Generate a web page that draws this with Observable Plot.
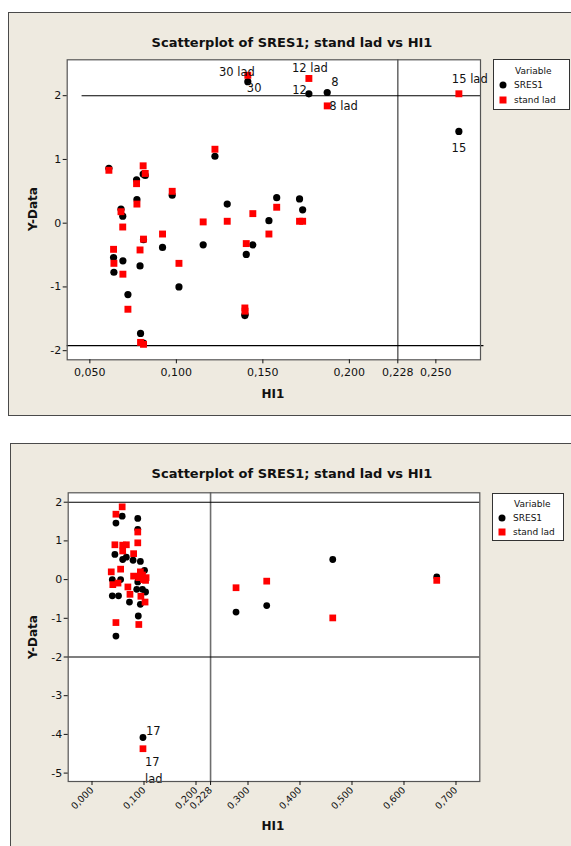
<!DOCTYPE html>
<html><head><meta charset="utf-8">
<script src="https://cdn.jsdelivr.net/npm/d3@7"></script>
<script src="https://cdn.jsdelivr.net/npm/@observablehq/plot@0.6"></script>
<style>
body{margin:0;background:#fff;font-family:"DejaVu Sans",sans-serif;}
#wrap{position:relative;width:571px;height:846px;overflow:hidden;background:#fff;}
.panel{position:absolute;background:#EEEAE0;border:1px solid #4a4a4a;box-sizing:border-box;}
.abs{position:absolute;white-space:nowrap;color:#111;}
.title{font-weight:bold;font-size:13px;transform:translate(-50%,-50%);}
.ylab{font-weight:bold;font-size:12px;transform:translate(-50%,-50%) rotate(-90deg);}
.xlab{font-weight:bold;font-size:12px;transform:translate(-50%,-50%);}
.legend{position:absolute;background:#fff;border:1px solid #333;box-sizing:border-box;font-size:9px;color:#111;}
.legend .row{position:absolute;white-space:nowrap;transform:translateY(-50%);}
.sym{position:absolute;transform:translate(-50%,-50%);}
.plotbox{position:absolute;left:0;}
</style>
</head><body>
<div id="wrap">
  <div class="panel" style="left:8px;top:12px;width:575px;height:404px"></div>
  <div class="panel" style="left:10px;top:443px;width:575px;height:420px"></div>
  <div id="topPlot" class="plotbox" style="top:0px"></div>
  <div id="botPlot" class="plotbox" style="top:430px"></div>
</div>
<script>
// ---------- shared text ----------
const chartTitle = "Scatterplot of SRES1; stand lad vs HI1";
const xTitle = "HI1";
const yTitle = "Y-Data";
const legendTitle = "Variable";
const seriesNames = ["SRES1", "stand lad"];
const seriesColors = ["#000000", "#ff0000"];

// ---------- top chart data ----------
const topHI   = [0.061, 0.0637, 0.0639, 0.068, 0.069, 0.0691, 0.072, 0.077, 0.0772, 0.079, 0.0793, 0.081, 0.0808, 0.082, 0.081, 0.092, 0.0976, 0.1015, 0.1155, 0.1223, 0.1294, 0.1396, 0.1397, 0.1404, 0.1413, 0.1442, 0.1535, 0.158, 0.1712, 0.173, 0.1766, 0.1872, 0.2633];
const topSRES = [0.86, -0.54, -0.77, 0.22, 0.11, -0.59, -1.12, 0.68, 0.37, -0.67, -1.73, -1.88, 0.77, 0.75, -0.26, -0.38, 0.44, -1.00, -0.34, 1.05, 0.30, -1.45, -1.43, -0.49, 2.22, -0.34, 0.04, 0.40, 0.38, 0.21, 2.03, 2.05, 1.44];
const topLAD  = [0.83, -0.41, -0.63, 0.18, -0.06, -0.80, -1.35, 0.62, 0.30, -0.42, -1.87, -1.90, 0.90, 0.78, -0.25, -0.17, 0.50, -0.63, 0.02, 1.16, 0.03, -1.33, -1.38, -0.32, 2.32, 0.15, -0.17, 0.25, 0.03, 0.03, 2.27, 1.84, 2.03];
const topObsId = [null, null, null, null, null, null, null, null, null, null, null, null, null, null, null, null, null, null, null, null, null, null, null, null, "30", null, null, null, null, null, "12", "8", "15"];
const topXTicks = [0.05, 0.10, 0.15, 0.20, 0.228, 0.25];
const topXTickLabels = ["0,050", "0,100", "0,150", "0,200", "0,228", "0,250"];
const topYTicks = [-2, -1, 0, 1, 2];
const topVRef = [0.228];
const topHRefHigh = 2;
const topHRefHighStart = 0.0455;
const topHRefLow = -1.92;

// ---------- bottom chart data ----------
const botSRESHI = [0.058, 0.046, 0.088, 0.088, 0.044, 0.059, 0.066, 0.079, 0.093, 0.101, 0.039, 0.055, 0.088, 0.086, 0.097, 0.103, 0.039, 0.051, 0.072, 0.093, 0.089, 0.046, 0.098, 0.277, 0.336, 0.463, 0.663];
const botSRES   = [1.64, 1.46, 1.58, 1.30, 0.65, 0.52, 0.58, 0.50, 0.47, 0.24, 0.00, 0.00, -0.06, -0.25, -0.25, -0.32, -0.42, -0.42, -0.58, -0.64, -0.94, -1.46, -4.08, -0.84, -0.67, 0.52, 0.07];
const botSRESId = [null, null, null, null, null, null, null, null, null, null, null, null, null, null, null, null, null, null, null, null, null, null, "17", null, null, null, null];
const botLADHI  = [0.058, 0.046, 0.088, 0.088, 0.044, 0.059, 0.066, 0.059, 0.080, 0.055, 0.037, 0.093, 0.080, 0.090, 0.099, 0.097, 0.104, 0.040, 0.050, 0.103, 0.069, 0.073, 0.094, 0.102, 0.046, 0.090, 0.098, 0.277, 0.336, 0.463, 0.663];
const botLAD    = [1.88, 1.69, 1.23, 0.95, 0.90, 0.89, 0.90, 0.74, 0.67, 0.27, 0.20, 0.20, 0.09, 0.05, 0.00, 0.12, 0.05, -0.13, -0.09, -0.02, -0.19, -0.38, -0.43, -0.58, -1.11, -1.16, -4.37, -0.21, -0.04, -0.99, -0.02];
const botLADId  = [null, null, null, null, null, null, null, null, null, null, null, null, null, null, null, null, null, null, null, null, null, null, null, null, null, null, "17", null, null, null, null];
const botXTicks = [0, 0.1, 0.2, 0.228, 0.3, 0.4, 0.5, 0.6, 0.7];
const botXTickLabels = ["0,000", "0,100", "0,200", "0,228", "0,300", "0,400", "0,500", "0,600", "0,700"];
const botYTicks = [-5, -4, -3, -2, -1, 0, 1, 2];
const botVRef = [0.228];
const botHRef = [2, -2];

// ---------- helpers ----------
const wrap = document.getElementById("wrap");
function addDiv(cls, text, left, top, extra) {
  const d = document.createElement("div");
  d.className = "abs " + cls;
  d.textContent = text;
  d.style.left = left + "px";
  d.style.top = top + "px";
  if (extra) Object.assign(d.style, extra);
  wrap.appendChild(d);
  return d;
}
function addLegend(left, top, w, h, symX, rowYs) {
  const box = document.createElement("div");
  box.className = "legend";
  Object.assign(box.style, {left: left + "px", top: top + "px", width: w + "px", height: h + "px"});
  const t = document.createElement("div");
  t.className = "row"; t.textContent = legendTitle;
  t.style.left = (symX - left + 11) + "px"; t.style.top = (rowYs[0] - top) + "px";
  box.appendChild(t);
  seriesNames.forEach((name, i) => {
    const s = document.createElement("div");
    s.className = "sym";
    Object.assign(s.style, {left: (symX - left - 1) + "px", top: (rowYs[i + 1] - top - 1) + "px",
      width: "7px", height: "7px", background: seriesColors[i], borderRadius: i === 0 ? "50%" : "0"});
    box.appendChild(s);
    const r = document.createElement("div");
    r.className = "row"; r.textContent = name;
    r.style.left = (symX - left + 10) + "px"; r.style.top = (rowYs[i + 1] - top - 1) + "px";
    box.appendChild(r);
  });
  wrap.appendChild(box);
}
const baseStyle = {background: "transparent", fontFamily: "DejaVu Sans", fontSize: "11px", color: "#111", overflow: "visible"};
const lblFont = 11.5;

// ---------- top chart ----------
const topObs = topHI.map((hi, i) => ({hi, sres: topSRES[i], lad: topLAD[i], id: topObsId[i]}));
const pick = id => topObs.filter(d => d.id === id);
const topXDom = [0.0369, 0.2758];
const topPlot = Plot.plot({
  width: 571, height: 416,
  marginLeft: 66.7, marginRight: 91, marginTop: 59.3, marginBottom: 56.7,
  x: {domain: topXDom},
  y: {domain: [-2.143, 2.563]},
  style: baseStyle,
  marks: [
    Plot.frame({fill: "white", stroke: null}),
    Plot.ruleX(topVRef, {stroke: "#6e6e6e", strokeWidth: 1.6}),
    Plot.ruleY([topHRefHigh], {x1: () => topHRefHighStart, x2: () => topXDom[1], stroke: "#000", strokeWidth: 1.1}),
    Plot.ruleY([topHRefLow], {x1: () => topXDom[0], x2: () => topXDom[1] + 0.002, stroke: "#000", strokeWidth: 1.1}),
    Plot.dot(topObs, {x: "hi", y: "sres", r: 3.6, fill: seriesColors[0], stroke: null}),
    Plot.dot(topObs, {x: "hi", y: "lad", r: 3.9, symbol: "square", fill: seriesColors[1], stroke: null}),
    // SRES1 labels
    Plot.text(pick("30"), {x: "hi", y: "sres", text: "id", textAnchor: "start", dx: -1, dy: 7, fontSize: lblFont, fill: "#111"}),
    Plot.text(pick("12"), {x: "hi", y: "sres", text: "id", textAnchor: "end", dx: -2, dy: -3, fontSize: lblFont, fill: "#111"}),
    Plot.text(pick("8"),  {x: "hi", y: "sres", text: "id", textAnchor: "start", dx: 4, dy: -10, fontSize: lblFont, fill: "#111"}),
    Plot.text(pick("15"), {x: "hi", y: "sres", text: "id", textAnchor: "middle", dx: 0, dy: 17, fontSize: lblFont, fill: "#111"}),
    // stand lad labels
    Plot.text(pick("30"), {x: "hi", y: "lad", text: d => d.id + " lad", textAnchor: "end", dx: 7, dy: -3, fontSize: lblFont, fill: "#111"}),
    Plot.text(pick("12"), {x: "hi", y: "lad", text: d => d.id + " lad", textAnchor: "middle", dx: 1, dy: -10, fontSize: lblFont, fill: "#111"}),
    Plot.text(pick("8"),  {x: "hi", y: "lad", text: d => d.id + " lad", textAnchor: "start", dx: 2, dy: 0, fontSize: lblFont, fill: "#111"}),
    Plot.text(pick("15"), {x: "hi", y: "lad", text: d => d.id + " lad", textAnchor: "start", dx: -7, dy: -14, fontSize: lblFont, fill: "#111"}),
    Plot.frame({stroke: "#555", strokeWidth: 1.2}),
    Plot.axisX(topXTicks, {tickSize: 4, tickPadding: 4, label: null, fontSize: 11,
      tickFormat: d => topXTickLabels[topXTicks.indexOf(d)]}),
    Plot.axisY(topYTicks, {tickSize: 4, tickPadding: 2, label: null, fontSize: 11, tickFormat: d => String(d)})
  ]
});
document.getElementById("topPlot").appendChild(topPlot);

// ---------- bottom chart ----------
const botS = botSRESHI.map((hi, i) => ({hi, v: botSRES[i], id: botSRESId[i]}));
const botL = botLADHI.map((hi, i) => ({hi, v: botLAD[i], id: botLADId[i]}));
const botPlot = Plot.plot({
  width: 571, height: 416,
  marginLeft: 67.7, marginRight: 91.7, marginTop: 62.3, marginBottom: 65,
  x: {domain: [-0.0458, 0.7458]},
  y: {domain: [-5.217, 2.243]},
  style: baseStyle,
  marks: [
    Plot.frame({fill: "white", stroke: null}),
    Plot.ruleX(botVRef, {stroke: "#6e6e6e", strokeWidth: 1.6}),
    Plot.ruleY(botHRef, {stroke: "#000", strokeWidth: 1.1}),
    Plot.dot(botS, {x: "hi", y: "v", r: 3.4, fill: seriesColors[0], stroke: null}),
    Plot.dot(botL, {x: "hi", y: "v", r: 3.8, symbol: "square", fill: seriesColors[1], stroke: null}),
    Plot.text(botS.filter(d => d.id), {x: "hi", y: "v", text: "id", textAnchor: "start", dx: 3, dy: -6, fontSize: lblFont, fill: "#111"}),
    Plot.text(botL.filter(d => d.id), {x: "hi", y: "v", text: d => d.id + "\nlad", textAnchor: "start", dx: 2, dy: 20.5, lineHeight: 1.5, fontSize: lblFont, fill: "#111"}),
    Plot.frame({stroke: "#555", strokeWidth: 1.2}),
    Plot.axisX(botXTicks, {tickSize: 4, tickPadding: 3, tickRotate: -45, label: null, fontSize: 9.5,
      tickFormat: d => botXTickLabels[botXTicks.indexOf(d)]}),
    Plot.axisY(botYTicks, {tickSize: 4, tickPadding: 2, label: null, fontSize: 11, tickFormat: d => String(d)})
  ]
});
document.getElementById("botPlot").appendChild(botPlot);

// ---------- titles, axis titles, legends ----------
addDiv("title", chartTitle, 292, 42);
addDiv("title", chartTitle, 292, 473);
addDiv("ylab", yTitle, 33, 209);
addDiv("ylab", yTitle, 33, 637);
addDiv("xlab", xTitle, 273, 394);
addDiv("xlab", xTitle, 273, 826);
addLegend(493, 59, 77, 51, 503, [70, 85, 100]);
addLegend(492, 493, 72, 48, 502, [503, 518, 532]);
</script>
</body></html>
